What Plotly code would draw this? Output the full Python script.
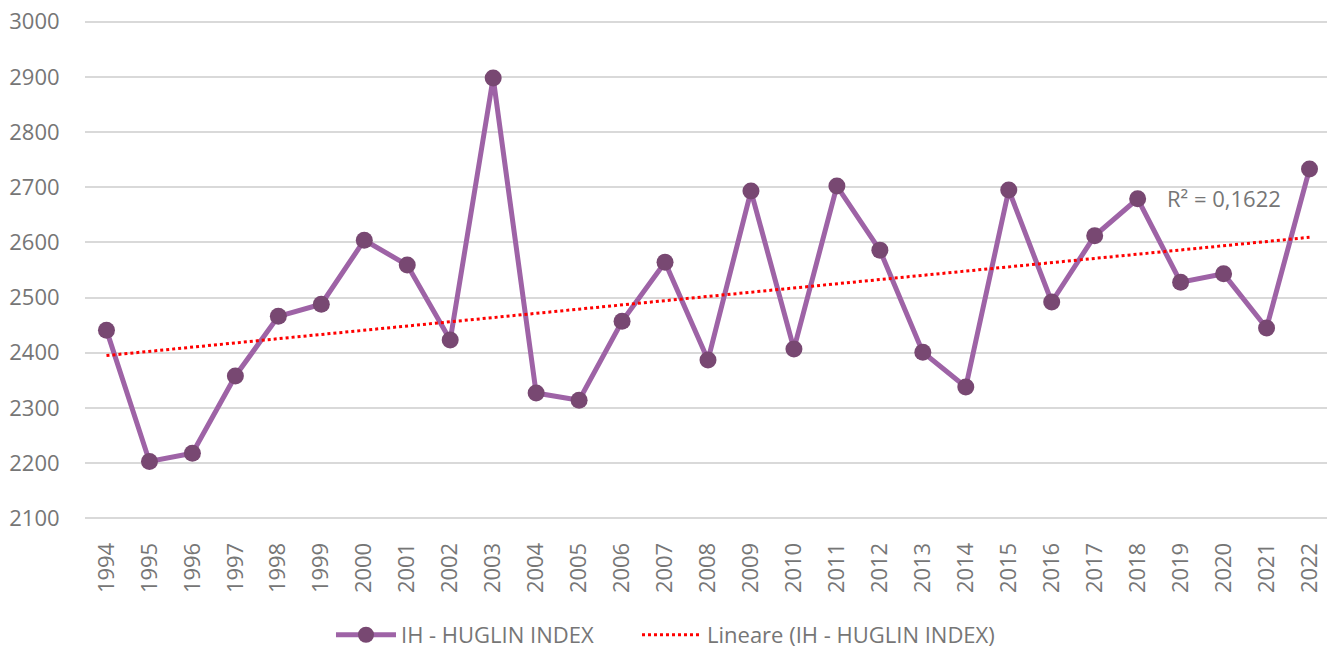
import numpy as np
import plotly.graph_objects as go

years = [str(y) for y in range(1994, 2023)]
huglin = [2441, 2203, 2218, 2358, 2466, 2488, 2604, 2559, 2423, 2898,
          2327, 2314, 2457, 2564, 2387, 2693, 2407, 2702, 2586, 2401,
          2338, 2695, 2492, 2612, 2679, 2528, 2543, 2445, 2733]
y_ticks = [2100, 2200, 2300, 2400, 2500, 2600, 2700, 2800, 2900, 3000]
r2_label = "R² = 0,1622"

idx = np.arange(len(huglin))
slope, intercept = np.polyfit(idx, huglin, 1)
trend = slope * idx + intercept

FONT = "Open Sans, Liberation Sans, sans-serif"
GREY = "#767676"
FS = 22

fig = go.Figure()
fig.add_trace(go.Scatter(
    x=years, y=huglin, mode="lines+markers", name="IH - HUGLIN INDEX",
    line=dict(color="#9e63a6", width=5),
    marker=dict(color="#784872", size=17), legend="legend",
))
fig.add_trace(go.Scatter(
    x=years, y=trend, mode="lines", name="Lineare (IH - HUGLIN INDEX)",
    line=dict(color="#ff0000", width=3, dash="dot"), legend="legend2",
))
# label placed near the right end of the trend line (category index of 2020)
fig.add_annotation(x=years.index("2020"), y=2680, xref="x", yref="y", text=r2_label,
                   showarrow=False, xanchor="center", yanchor="middle",
                   font=dict(size=FS, color=GREY, family=FONT))

leg_common = dict(orientation="h", xref="container", yref="container",
                  xanchor="left", y=0.028, yanchor="middle",
                  font=dict(size=FS, color=GREY), itemwidth=60,
                  bgcolor="rgba(0,0,0,0)")

# the page body has an 8px margin: compensate so the plot lands where the reference is
fig.update_layout(
    width=1327, height=645,
    margin=dict(l=77, r=4, t=12, b=133, autoexpand=False),
    plot_bgcolor="white", paper_bgcolor="white",
    font=dict(family=FONT, size=FS, color=GREY),
    showlegend=True,
    legend=dict(x=0.2434, **leg_common),
    legend2=dict(x=0.474, **leg_common),
    xaxis=dict(type="category", range=[-0.5, len(years) - 0.5], tickangle=-90,
               showgrid=False, showline=False, ticks="outside", ticklen=13,
               tickcolor="rgba(0,0,0,0)", tickfont=dict(size=FS, color=GREY)),
    yaxis=dict(range=[2097, 3003], tickvals=y_ticks, showgrid=True, gridcolor="#d9d9d9",
               gridwidth=1.5, zeroline=False, showline=False, ticks="outside", ticklen=20,
               ticklabeloverflow="allow",
               tickcolor="rgba(0,0,0,0)", tickfont=dict(size=FS, color=GREY)),
)
fig.write_html("out.html")
